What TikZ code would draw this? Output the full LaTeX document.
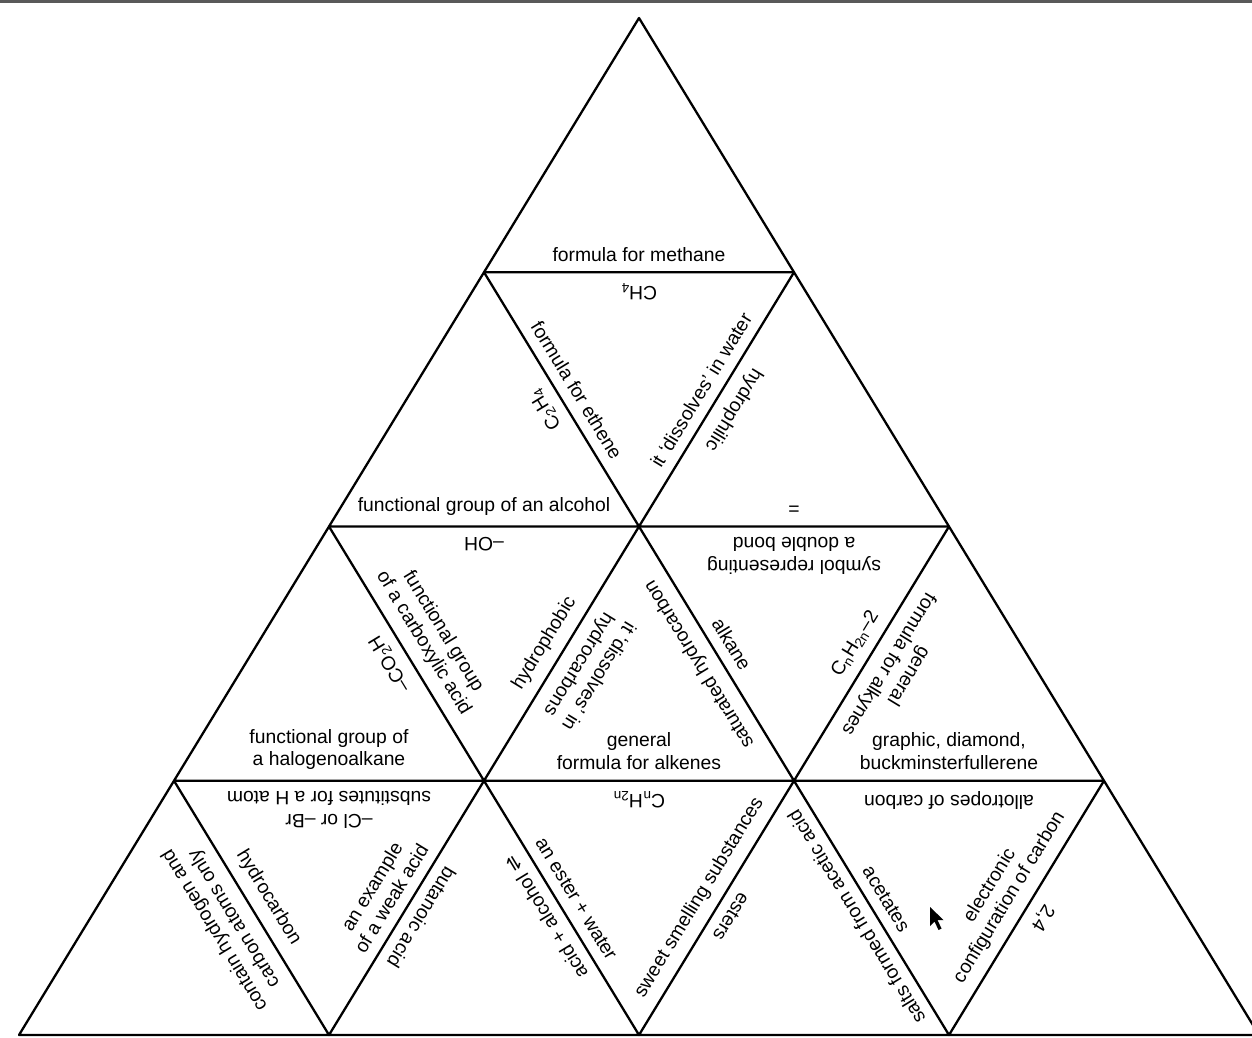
\documentclass[tikz,border=0pt]{standalone}
\usepackage{fontspec}
\setmainfont{Liberation Sans}
\newfontfamily\symfont{DejaVu Sans}
\usepackage{tikz}
\usetikzlibrary{positioning}

\begin{document}
\begin{tikzpicture}[x=0.02cm, y=-0.02cm,
    edge/.style={line width=1.3pt, line join=round},
    lbl/.style={midway, sloped, allow upside down, above=6pt, inner sep=0pt,
      align=center, font=\fontsize{11}{13}\selectfont}]
  \useasboundingbox (0,0) rectangle (1252,1038);
  \fill[black!65] (0,0) rectangle (1252,2.5);
  \foreach \k in {0,...,4}{
    \foreach \j in {0,...,\k}{
      \coordinate (v\k\j) at ({639+310*(\j-\k/2)}, {18+254.25*\k});
    }
  }
  \foreach \k in {0,...,3}{
    \pgfmathtruncatemacro{\n}{\k+1}
    \foreach \j in {0,...,\k}{
      \pgfmathtruncatemacro{\m}{\j+1}
      \draw[edge] (v\k\j) -- (v\n\j) -- (v\n\m) -- cycle;
    }
  }
  \path (v10) -- (v11) node[lbl] (methane) {formula for methane};
  \path (v20) -- (v21) node[lbl] (alcohol) {functional group of an alcohol};
  \path (v21) -- (v10) node[lbl] (ethene) {C\textsubscript{2}H\textsubscript{4}};
  \path (v11) -- (v10) node[lbl] (ch4) {CH\textsubscript{4}};
  \path (v10) -- (v21) node[lbl] (ethenef) {formula for ethene};
  \path (v21) -- (v11) node[lbl] (water) {it `dissolves' in water};
  \path (v11) -- (v21) node[lbl] (philic) {hydrophilic};
  \path (v21) -- (v22) node[lbl] (dbl) {=};
  \path (v30) -- (v31) node[lbl] (halo) {functional group of\\a halogenoalkane};
  \path (v31) -- (v20) node[lbl] (co2h) {--CO\textsubscript{2}H};
  \path (v21) -- (v20) node[lbl] (oh) {--OH};
  \path (v20) -- (v31) node[lbl] (carbox) {functional group\\of a carboxylic acid};
  \path (v31) -- (v21) node[lbl] (phobic) {hydrophobic};
  \path (v21) -- (v31) node[lbl] (hydroc) {it `dissolves' in\\hydrocarbons};
  \path (v32) -- (v21) node[lbl] (satur) {saturated hydrocarbon};
  \path (v31) -- (v32) node[lbl] (alkenes) {general\\formula for alkenes};
  \path (v22) -- (v21) node[lbl] (symbol) {symbol representing\\a double bond};
  \path (v21) -- (v32) node[lbl] (alkane) {alkane};
  \path (v32) -- (v22) node[lbl] (alkyneform) {C\textsubscript{n}H\textsubscript{2n}--2};
  \path (v22) -- (v32) node[lbl] (alkynes) {general\\formula for alkynes};
  \path (v32) -- (v33) node[lbl] (allo) {graphic, diamond,\\buckminsterfullerene};
  \path (v41) -- (v30) node[lbl] (hydroonly) {contain hydrogen and\\carbon atoms only};
  \path (v31) -- (v30) node[lbl] (subst) {--Cl or --Br\\substitutes for a H atom};
  \path (v30) -- (v41) node[lbl] (hydrocarb) {hydrocarbon};
  \path (v41) -- (v31) node[lbl] (weak) {an example\\of a weak acid};
  \path (v31) -- (v41) node[lbl] (butan) {butanoic acid};
  \path (v42) -- (v31) node[lbl] (react) {acid + alcohol {\symfont ⇌}};
  \path (v32) -- (v31) node[lbl] (alkeneform) {C\textsubscript{n}H\textsubscript{2n}};
  \path (v31) -- (v42) node[lbl] (ester) {an ester + water};
  \path (v42) -- (v32) node[lbl] (sweet) {sweet smelling substances};
  \path (v32) -- (v42) node[lbl] (esters) {esters};
  \path (v43) -- (v32) node[lbl] (salts) {salts formed from acetic acid};
  \path (v33) -- (v32) node[lbl] (allot) {allotropes of carbon};
  \path (v32) -- (v43) node[lbl] (acet) {acetates};
  \path (v43) -- (v33) node[lbl] (config) {electronic\\configuration of carbon};
  \path (v33) -- (v43) node[lbl] (elec) {2,4};
  \fill (930,907) -- ++(0,19) -- ++(4.5,-4.5) -- ++(4,8.5) -- ++(3,-1.5) -- ++(-4,-8.5) -- ++(6,0) -- cycle;
\end{tikzpicture}
\end{document}
